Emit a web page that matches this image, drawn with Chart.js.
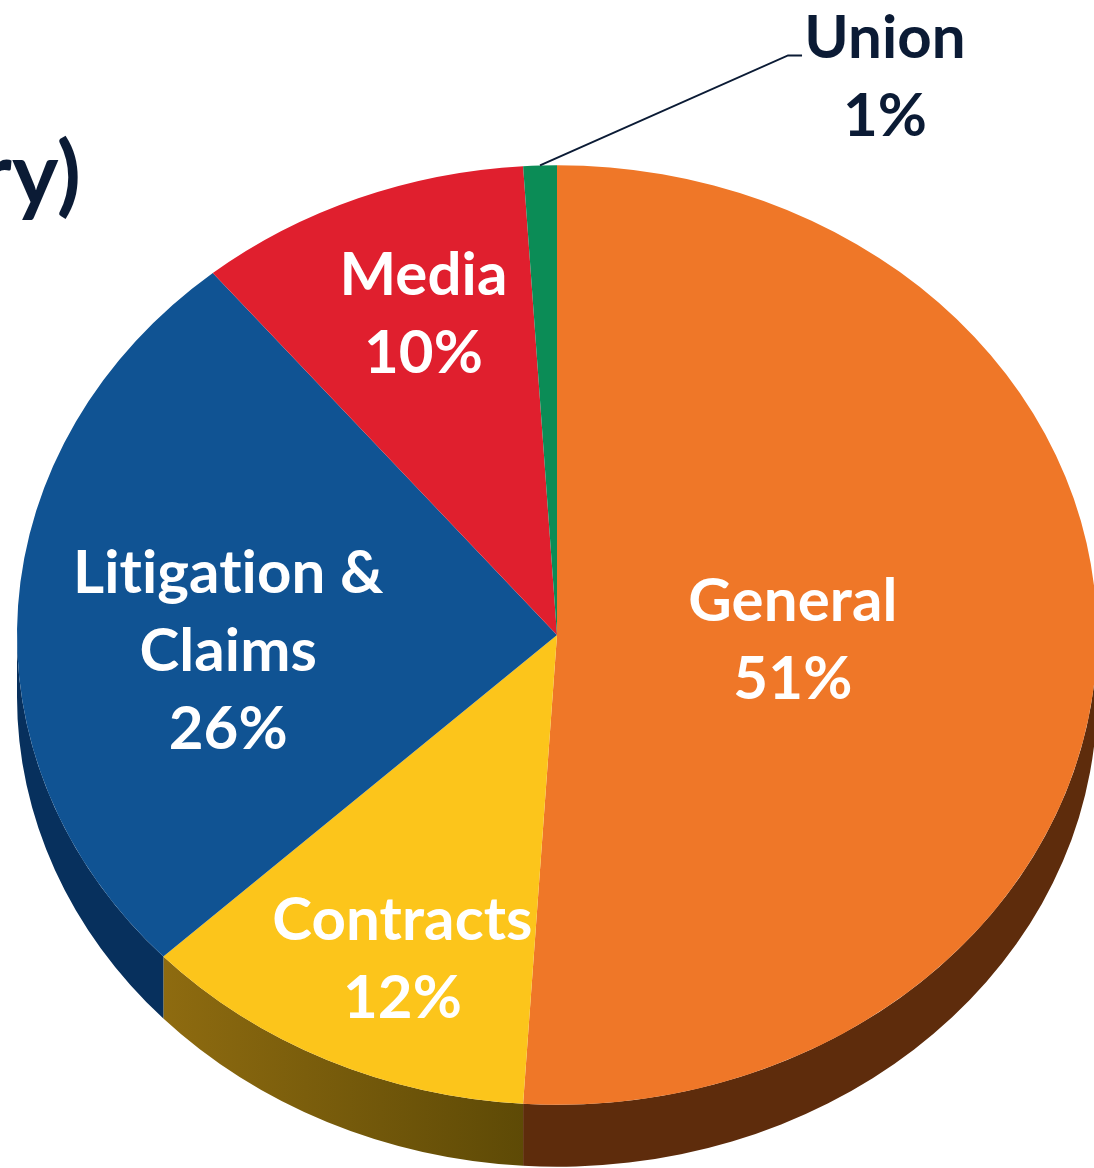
<!DOCTYPE html>
<html>
<head>
<meta charset="utf-8">
<script src="https://cdn.jsdelivr.net/npm/chart.js@4.4.1/dist/chart.umd.min.js"></script>
<style>
  html, body { margin: 0; padding: 0; background: #ffffff; overflow: hidden; }
  #wrap { position: relative; width: 1094px; height: 1168px; }
</style>
</head>
<body>
<div id="wrap"><canvas id="c" width="1094" height="1168"></canvas></div>
<script>
// ---- data ----
const categories = ['General', 'Contracts', 'Litigation & Claims', 'Media', 'Union'];
const labelLines = [['General'], ['Contracts'], ['Litigation &', 'Claims'], ['Media'], ['Union']];
const values = [51, 12, 26, 10, 1];
const titleFragment = 'ry)';

// ---- styles ----
const topColors = ['#EF7728', '#FCC51B', '#105393', '#E01F2E', '#0B8C56'];
const sideColors = ['#5E2C0C', ['#8E6B10', '#5E4A06'], '#07305D', '#6E0F17', '#064A2D'];
const navy = '#0B1B35';
const TILT = 0.87;
const DEPTH = 62;
const FONT = 'Lato, "Open Sans", sans-serif';
// label placement: radial fraction and small nudges (px)
const labelPlace = [
  { r: 0.437, dx: 0, dy: -1 },
  { r: 0.72, dx: 11, dy: 19 },
  { r: 0.61, dx: 0, dy: 35 },
  { r: 0.727, dx: 11, dy: -3 },
  { outside: true }
];

const pie3d = {
  id: 'pie3d',
  beforeDatasetsDraw(chart) {
    const ctx = chart.ctx;
    const meta = chart.getDatasetMeta(0);
    const a0 = meta.data[0];
    const cx = a0.x, cy = a0.y, R = a0.outerRadius;
    meta.data.forEach((arc, i) => {
      const s = Math.max(arc.startAngle, 0);
      const e = Math.min(arc.endAngle, Math.PI);
      if (e <= s) return;
      ctx.beginPath();
      ctx.ellipse(cx, cy, R, R * TILT, 0, s, e);
      ctx.ellipse(cx, cy + DEPTH, R, R * TILT, 0, e, s, true);
      ctx.closePath();
      const sc = sideColors[i];
      if (Array.isArray(sc)) {
        const xs = cx + R * Math.cos(e), xe = cx + R * Math.cos(s);
        const g = ctx.createLinearGradient(Math.min(xs, xe), 0, Math.max(xs, xe), 0);
        g.addColorStop(0, sc[0]);
        g.addColorStop(1, sc[1]);
        ctx.fillStyle = g;
      } else {
        ctx.fillStyle = sc;
      }
      ctx.fill();
    });
    ctx.save();
    ctx.translate(cx, cy);
    ctx.scale(1, TILT);
    ctx.translate(-cx, -cy);
  },
  afterDatasetsDraw(chart) {
    const ctx = chart.ctx;
    ctx.restore();
    const meta = chart.getDatasetMeta(0);
    const total = values.reduce((a, b) => a + b, 0);
    meta.data.forEach((arc, i) => {
      const cx = arc.x, cy = arc.y, R = arc.outerRadius;
      const mid = (arc.startAngle + arc.endAngle) / 2;
      const pct = Math.round(values[i] / total * 100) + '%';
      const lines = labelLines[i].concat([pct]);
      const p = labelPlace[i];
      ctx.save();
      ctx.font = 'bold 60px ' + FONT;
      ctx.letterSpacing = '0.1px';
      ctx.textAlign = 'center';
      ctx.textBaseline = 'middle';
      const lh = 78;
      if (p.outside) {
        const ex = cx + R * Math.cos(mid);
        const ey = cy + R * TILT * Math.sin(mid);
        ctx.strokeStyle = navy;
        ctx.lineWidth = 2;
        ctx.beginPath();
        ctx.moveTo(ex, ey);
        ctx.lineTo(ex + 248, ey - 110);
        ctx.lineTo(ex + 262, ey - 110);
        ctx.stroke();
        ctx.fillStyle = navy;
        const tx = ex + 345, ty = ey - 88;
        lines.forEach((ln, k) => ctx.fillText(ln, tx, ty + (k - (lines.length - 1) / 2) * lh));
      } else {
        const x = cx + p.r * R * Math.cos(mid) + p.dx;
        const y = cy + p.r * R * TILT * Math.sin(mid) + p.dy;
        ctx.fillStyle = '#ffffff';
        lines.forEach((ln, k) => ctx.fillText(ln, x, y + (k - (lines.length - 1) / 2) * lh));
      }
      ctx.restore();
    });
    // cut-off title fragment
    ctx.save();
    ctx.font = 'bold 88px ' + FONT;
    ctx.letterSpacing = '0.1px';
    ctx.fillStyle = navy;
    ctx.textAlign = 'right';
    ctx.textBaseline = 'alphabetic';
    ctx.fillText(titleFragment, 81, 205);
    ctx.restore();
  }
};

new Chart(document.getElementById('c'), {
  type: 'pie',
  data: {
    labels: categories,
    datasets: [{
      data: values,
      backgroundColor: topColors,
      borderWidth: 0,
      radius: 540,
      clip: false
    }]
  },
  options: {
    responsive: false,
    animation: false,
    events: [],
    layout: { padding: { left: 20, right: 0, top: 102, bottom: 0 } },
    plugins: { legend: { display: false }, tooltip: { enabled: false }, title: { display: false } }
  },
  plugins: [pie3d]
});
</script>
</body>
</html>
